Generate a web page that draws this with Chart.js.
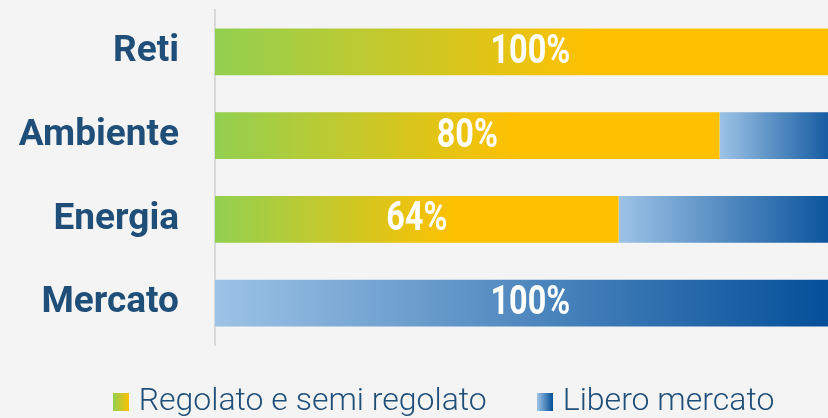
<!DOCTYPE html>
<html>
<head>
<meta charset="utf-8">
<script src="https://cdn.jsdelivr.net/npm/chart.js@4"></script>
<style>
  body { margin: 0; background: #F4F4F4; }
  #wrap { width: 828px; height: 418px; position: relative; }
</style>
</head>
<body>
<div id="wrap"><canvas id="bar-graph"></canvas></div>
<script>
const categories = ['Reti', 'Ambiente', 'Energia', 'Mercato'];
const regolato = [100, 80, 64, 0];
const libero = [0, 20, 36, 100];
const barLabels = ['100%', '80%', '64%', '100%'];
const seriesNames = ['Regolato e semi regolato', 'Libero mercato'];

const greenYellow = ['#92D050', '#FFC000'];
const blues = ['#9DC3E6', '#004C97'];

// gradient runs along each bar segment
function segmentGradient(context, colors, share) {
  const chart = context.chart;
  const x = chart.scales.x;
  if (!chart.chartArea || !x || context.dataIndex === undefined) return colors[1];
  const i = context.dataIndex;
  let from, to;
  if (context.datasetIndex === 0) {
    from = 0; to = regolato[i];
  } else {
    from = regolato[i]; to = regolato[i] + libero[i];
  }
  const x0 = x.getPixelForValue(from);
  const x1 = x.getPixelForValue(to);
  if (x1 - x0 < 1) return colors[1];
  const g = chart.ctx.createLinearGradient(x0, 0, x0 + (x1 - x0) * share, 0);
  g.addColorStop(0, colors[0]);
  g.addColorStop(1, colors[1]);
  return g;
}

function legendIcon(colors) {
  const c = document.createElement('canvas');
  c.width = 16; c.height = 18;
  const cx = c.getContext('2d');
  const g = cx.createLinearGradient(0, 0, 16, 0);
  g.addColorStop(0, colors[0]);
  g.addColorStop(1, colors[1]);
  cx.fillStyle = g;
  cx.fillRect(0, 0, 16, 18);
  return c;
}
const legendIcons = [legendIcon(greenYellow), legendIcon(blues)];

// label sits in the middle of the segment it describes
const barText = {
  id: 'barText',
  afterDatasetsDraw(chart) {
    const {ctx, scales: {x, y}} = chart;
    ctx.save();
    ctx.fillStyle = '#FFFFFF';
    ctx.font = 'bold 40px Roboto, sans-serif';
    ctx.textAlign = 'center';
    ctx.textBaseline = 'middle';
    categories.forEach((c, i) => {
      let from = 0, to = regolato[i];
      if (regolato[i] === 0) { from = 0; to = libero[i]; }
      const px = x.getPixelForValue((from + to) / 2);
      const py = y.getPixelForValue(i) + 1;
      // condensed look
      ctx.save();
      ctx.translate(px, py);
      ctx.scale(0.81, 1);
      ctx.fillText(barLabels[i], 0, 0);
      ctx.restore();
    });
    ctx.restore();
  }
};

// nudge legend to where it sits in the original
const legendShift = {
  id: 'legendShift',
  afterLayout(chart) {
    chart.legend.left += 33;
    chart.legend.right += 33;
    chart.legend.top -= 16;
  }
};

const ctx = document.getElementById('bar-graph');
const myChart = new Chart(ctx, {
  type: 'bar',
  data: {
    labels: categories,
    datasets: [{
      label: seriesNames[0],
      data: regolato,
      backgroundColor: (c) => segmentGradient(c, greenYellow, 0.6),
    }, {
      label: seriesNames[1],
      data: libero,
      backgroundColor: (c) => segmentGradient(c, blues, 1),
    }],
  },
  options: {
    indexAxis: 'y',
    responsive: true,
    maintainAspectRatio: false,
    animation: false,
    layout: { autoPadding: false, padding: { top: 10 } },
    datasets: {
      bar: { barPercentage: 0.56, categoryPercentage: 1 }
    },
    scales: {
      x: {
        stacked: true,
        display: false,
        min: 0,
        max: 97.2,
      },
      y: {
        stacked: true,
        grid: { display: false, drawTicks: false },
        border: { display: true, color: '#D9D9D9', width: 2 },
        ticks: {
          padding: 36,
          color: '#1F4E79',
          font: { family: 'Roboto', size: 37, weight: 'bold' },
        },
        afterFit: (s) => {
          s.width = 215;
          s.paddingTop = 0;
          s.paddingBottom = 0;
        },
      },
    },
    plugins: {
      tooltip: { enabled: false },
      legend: {
        position: 'bottom',
        maxHeight: 73,
        labels: {
          usePointStyle: true,
          boxWidth: 3,
          boxHeight: 18,
          padding: 57,
          color: '#1F4E79',
          font: { family: 'Roboto', size: 32, weight: 300 },
          generateLabels: (chart) => {
            const items = Chart.defaults.plugins.legend.labels.generateLabels(chart);
            items.forEach((it, i) => { it.pointStyle = legendIcons[i]; });
            return items;
          },
        },
      },
    },
  },
  plugins: [barText, legendShift],
});
</script>
</body>
</html>
